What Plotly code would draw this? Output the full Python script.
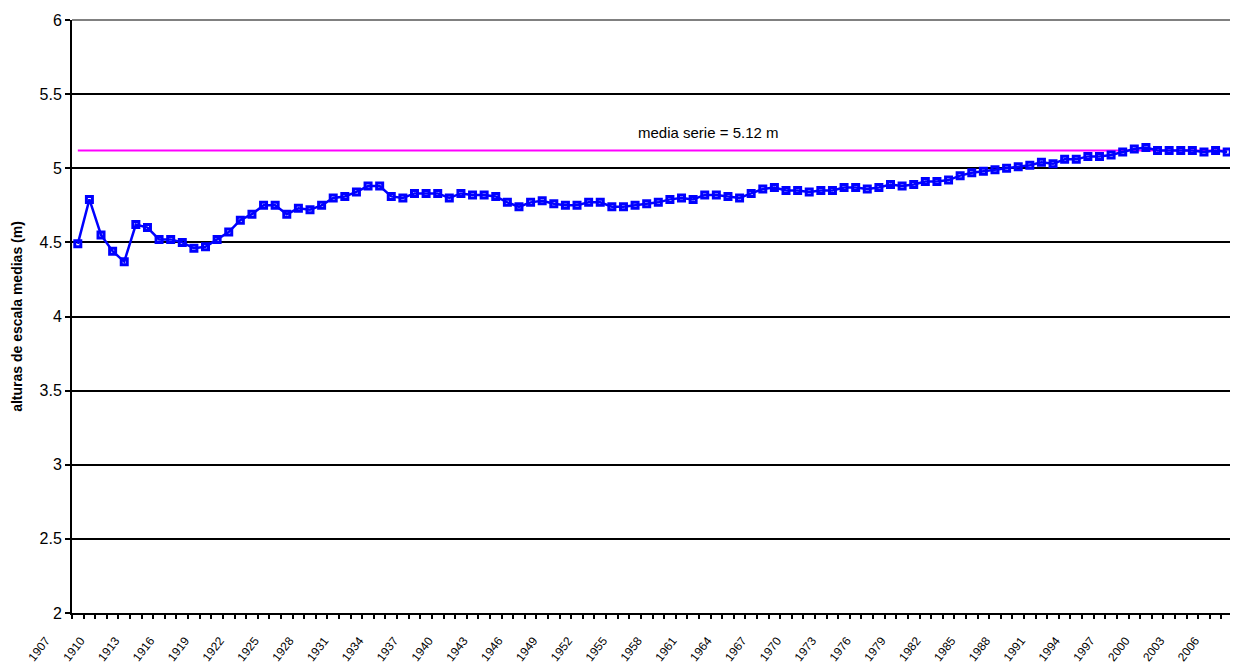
import plotly.graph_objects as go

years = list(range(1907, 2007))
heights = [
    4.49, 4.79, 4.55, 4.44, 4.37, 4.62, 4.60, 4.52, 4.52, 4.50,   # 1907-1916
    4.46, 4.47, 4.52, 4.57, 4.65, 4.69, 4.75, 4.75, 4.69, 4.73,   # 1917-1926
    4.72, 4.75, 4.80, 4.81, 4.84, 4.88, 4.88, 4.81, 4.80, 4.83,   # 1927-1936
    4.83, 4.83, 4.80, 4.83, 4.82, 4.82, 4.81, 4.77, 4.74, 4.77,   # 1937-1946
    4.78, 4.76, 4.75, 4.75, 4.77, 4.77, 4.74, 4.74, 4.75, 4.76,   # 1947-1956
    4.77, 4.79, 4.80, 4.79, 4.82, 4.82, 4.81, 4.80, 4.83, 4.86,   # 1957-1966
    4.87, 4.85, 4.85, 4.84, 4.85, 4.85, 4.87, 4.87, 4.86, 4.87,   # 1967-1976
    4.89, 4.88, 4.89, 4.91, 4.91, 4.92, 4.95, 4.97, 4.98, 4.99,   # 1977-1986
    5.00, 5.01, 5.02, 5.04, 5.03, 5.06, 5.06, 5.08, 5.08, 5.09,   # 1987-1996
    5.11, 5.13, 5.14, 5.12, 5.12, 5.12, 5.12, 5.11, 5.12, 5.11,   # 1997-2006
]
series_mean = 5.12
label_years = list(range(1907, 2007, 3))
label_text = [str(y) for y in label_years]
y_ticks = [2, 2.5, 3, 3.5, 4, 4.5, 5, 5.5, 6]
y_text = ["2", "2.5", "3", "3.5", "4", "4.5", "5", "5.5", "6"]
mean_label = "media serie = 5.12 m"
y_title = "alturas de escala medias (m)"

fig = go.Figure()
fig.add_trace(go.Scatter(
    x=years, y=[series_mean] * len(years), mode="lines",
    line=dict(color="#FF00FF", width=2), hoverinfo="skip", showlegend=False,
))
fig.add_trace(go.Scatter(
    x=years, y=heights, mode="lines+markers",
    line=dict(color="#0000FF", width=2.5),
    marker=dict(symbol="square-open", size=6, color="#0000FF", line=dict(width=3, color="#0000FF")),
    showlegend=False,
))

fig.add_annotation(
    x=1961.3, y=series_mean, text=mean_label, showarrow=False,
    yshift=18, font=dict(family="Liberation Sans, Arial", size=15, color="black"),
)

# top and right border in grey
fig.add_shape(type="line", xref="paper", yref="paper", x0=0, x1=1, y0=1, y1=1,
              line=dict(color="#808080", width=2), layer="above")
fig.add_shape(type="line", xref="paper", yref="paper", x0=1, x1=1, y0=0, y1=1,
              line=dict(color="#808080", width=2), layer="above")

fig.update_layout(
    width=1230, height=661,
    margin=dict(l=64, r=5, t=12, b=56),
    paper_bgcolor="white", plot_bgcolor="white",
    font=dict(family="Liberation Sans, Arial", color="black"),
    xaxis=dict(
        range=[years[0] - 0.5, years[-1] + 0.5], automargin=False,
        tickmode="array", tickvals=label_years, ticktext=label_text,
        tickangle=-52, ticks="", showgrid=False, zeroline=False,
        showline=True, linecolor="black", linewidth=2,
        tickfont=dict(size=12, family="Liberation Sans, Arial"),
        ticklabelshift=-32, ticklabelstandoff=14,
        minor=dict(tickmode="linear", tick0=years[0] - 0.5, dtick=1,
                   ticks="outside", ticklen=4, tickwidth=1.5, tickcolor="black",
                   showgrid=False),
    ),
    yaxis=dict(
        range=[2, 6], automargin=False,
        tickmode="array", tickvals=y_ticks, ticktext=y_text,
        showgrid=True, gridcolor="black", gridwidth=2,
        ticks="outside", ticklen=5, tickwidth=2, tickcolor="black",
        showline=True, linecolor="black", linewidth=2, zeroline=False,
        tickfont=dict(size=16),
        title=dict(text="<b>" + y_title + "</b>", font=dict(size=14), standoff=14),
    ),
)

fig.write_html("out.html")
